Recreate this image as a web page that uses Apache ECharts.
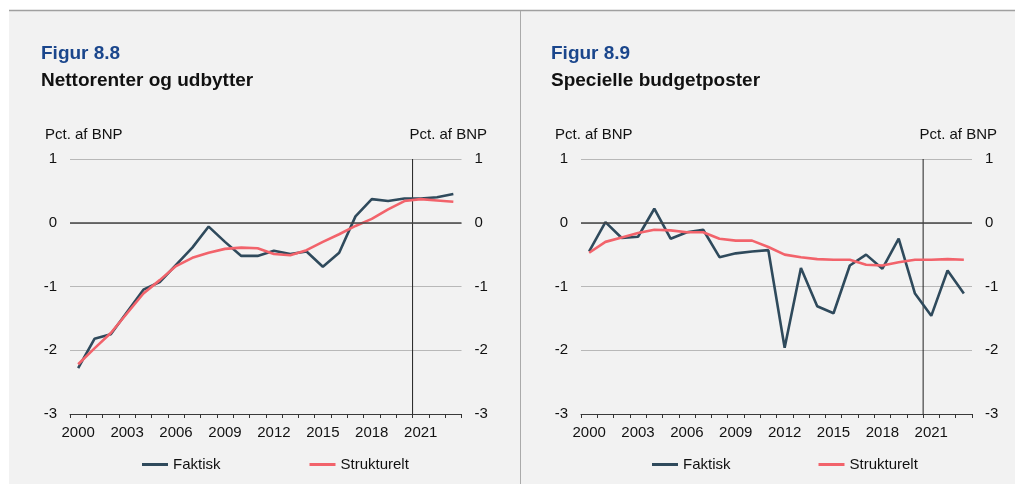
<!DOCTYPE html>
<html>
<head>
<meta charset="utf-8">
<script src="https://cdn.jsdelivr.net/npm/echarts@6/dist/echarts.min.js"></script>
<style>
html,body{margin:0;padding:0;background:#ffffff;}
#chart{width:1015px;height:484px;}
</style>
</head>
<body>
<div id="chart"></div>
<script>
const years = ['2000','2001','2002','2003','2004','2005','2006','2007','2008','2009','2010','2011','2012','2013','2014','2015','2016','2017','2018','2019','2020','2021','2022','2023'];
const nettoFaktisk = [-2.28,-1.82,-1.75,-1.40,-1.05,-0.93,-0.66,-0.39,-0.06,-0.30,-0.52,-0.52,-0.44,-0.49,-0.45,-0.69,-0.47,0.10,0.37,0.34,0.38,0.38,0.40,0.45];
const nettoStrukturelt = [-2.22,-1.97,-1.73,-1.42,-1.11,-0.90,-0.68,-0.55,-0.47,-0.41,-0.39,-0.40,-0.49,-0.51,-0.43,-0.30,-0.18,-0.05,0.06,0.21,0.34,0.37,0.35,0.33];
const specFaktisk = [-0.45,0.01,-0.24,-0.22,0.22,-0.25,-0.15,-0.11,-0.54,-0.48,-0.45,-0.43,-1.96,-0.71,-1.31,-1.42,-0.67,-0.50,-0.72,-0.25,-1.11,-1.46,-0.75,-1.11];
const specStrukturelt = [-0.47,-0.30,-0.23,-0.16,-0.11,-0.12,-0.15,-0.15,-0.25,-0.28,-0.28,-0.38,-0.50,-0.54,-0.57,-0.58,-0.58,-0.66,-0.67,-0.62,-0.58,-0.58,-0.57,-0.58];
const yTicks = [-3,-2,-1,0,1];
const forecastStart = 21; // category boundary before 2021
const seriesNames = ['Faktisk','Strukturelt'];
const titles = [['Figur 8.8','Nettorenter og udbytter'],['Figur 8.9','Specielle budgetposter']];
const unitLabel = 'Pct. af BNP';

const FONT = "'Liberation Sans', Arial, sans-serif";
const C_FAK = '#2f4a5c';
const C_STR = '#f2636b';
const grids = [{left:70, top:159, width:391.5, height:255},{left:581, top:159, width:391, height:255}];

const chart = echarts.init(document.getElementById('chart'), null, {renderer:'canvas'});

const xAxis = [], yAxis = [], series = [], legend = [];
grids.forEach((g, gi) => {
  xAxis.push({
    type:'category', gridIndex:gi, data:years, boundaryGap:true,
    axisLine:{show:true, onZero:false, lineStyle:{color:'#3a3a3a', width:1}},
    axisTick:{show:true, interval:0, length:4, inside:false, lineStyle:{color:'#333', width:1}},
    axisLabel:{interval:2, color:'#111', fontSize:15, fontFamily:FONT, margin:11},
    splitLine:{show:false}
  });
  xAxis.push({type:'value', gridIndex:gi, min:0, max:years.length, show:false});
  const ybase = {
    type:'value', gridIndex:gi, min:yTicks[0], max:yTicks[yTicks.length-1], interval:1,
    axisLine:{show:false}, axisTick:{show:false},
    axisLabel:{color:'#111', fontSize:15, fontFamily:FONT, margin:13}
  };
  yAxis.push(Object.assign({}, ybase, {position:'left',
    splitLine:{show:true, lineStyle:{color:'#b8b8b8', width:1}}}));
  yAxis.push(Object.assign({}, ybase, {position:'right', splitLine:{show:false}}));
});

const data = [[nettoFaktisk, nettoStrukturelt],[specFaktisk, specStrukturelt]];
grids.forEach((g, gi) => {
  // zero line
  series.push({
    type:'line', xAxisIndex:gi*2, yAxisIndex:gi*2, data:[], silent:true,
    markLine:{silent:true, symbol:'none', label:{show:false},
      lineStyle:{color:'#444', width:1.5, type:'solid'}, data:[{yAxis:0}]}
  });
  // forecast divider
  series.push({
    type:'line', xAxisIndex:gi*2+1, yAxisIndex:gi*2, symbol:'none', silent:true,
    lineStyle:{color:'#222', width:1},
    data:[[forecastStart, yTicks[yTicks.length-1]],[forecastStart, yTicks[0]]]
  });
  series.push({
    name:seriesNames[0], type:'line', xAxisIndex:gi*2, yAxisIndex:gi*2,
    data:data[gi][0], symbol:'none', lineStyle:{color:C_FAK, width:2.6}, itemStyle:{color:C_FAK}, z:3
  });
  series.push({
    name:seriesNames[1], type:'line', xAxisIndex:gi*2, yAxisIndex:gi*2,
    data:data[gi][1], symbol:'none', lineStyle:{color:C_STR, width:2.6}, itemStyle:{color:C_STR}, z:4
  });
});

legend.push({left:137, top:452, icon:'rect', itemWidth:26, itemHeight:3, itemGap:89,
  data:seriesNames, textStyle:{fontSize:15, fontFamily:FONT, color:'#111'}, selectedMode:false});
legend.push({left:647, top:452, icon:'rect', itemWidth:26, itemHeight:3, itemGap:88,
  data:seriesNames, textStyle:{fontSize:15, fontFamily:FONT, color:'#111'}, selectedMode:false});

const graphic = [
  {type:'rect', shape:{x:9, y:10, width:1010, height:480}, style:{fill:'#f2f2f2'}, z:-10, silent:true},
  {type:'line', shape:{x1:9, y1:10.5, x2:1015, y2:10.5}, style:{stroke:'#a0a0a0', lineWidth:1.5}, z:-9, silent:true},
  {type:'line', shape:{x1:520.5, y1:11, x2:520.5, y2:484}, style:{stroke:'#aaaaaa', lineWidth:1}, z:-9, silent:true}
];
const tx = [41, 551];
const unitL = [45, 555];
const unitR = [487, 997];
titles.forEach((t, i) => {
  graphic.push({type:'text', left:tx[i], top:44, style:{text:t[0], fill:'#1a468c', font:'bold 19px ' + FONT}});
  graphic.push({type:'text', left:tx[i], top:71, style:{text:t[1], fill:'#111', font:'bold 19px ' + FONT}});
  graphic.push({type:'text', x:unitL[i], y:134.5, style:{text:unitLabel, fill:'#111', font:'15px ' + FONT, align:'left', verticalAlign:'middle'}});
  graphic.push({type:'text', x:unitR[i], y:134.5, style:{text:unitLabel, fill:'#111', font:'15px ' + FONT, align:'right', verticalAlign:'middle'}});
});

chart.setOption({
  animation:false,
  backgroundColor:'transparent',
  textStyle:{fontFamily:FONT},
  grid:grids,
  xAxis:xAxis, yAxis:yAxis, series:series, legend:legend, graphic:graphic
});
</script>
</body>
</html>
